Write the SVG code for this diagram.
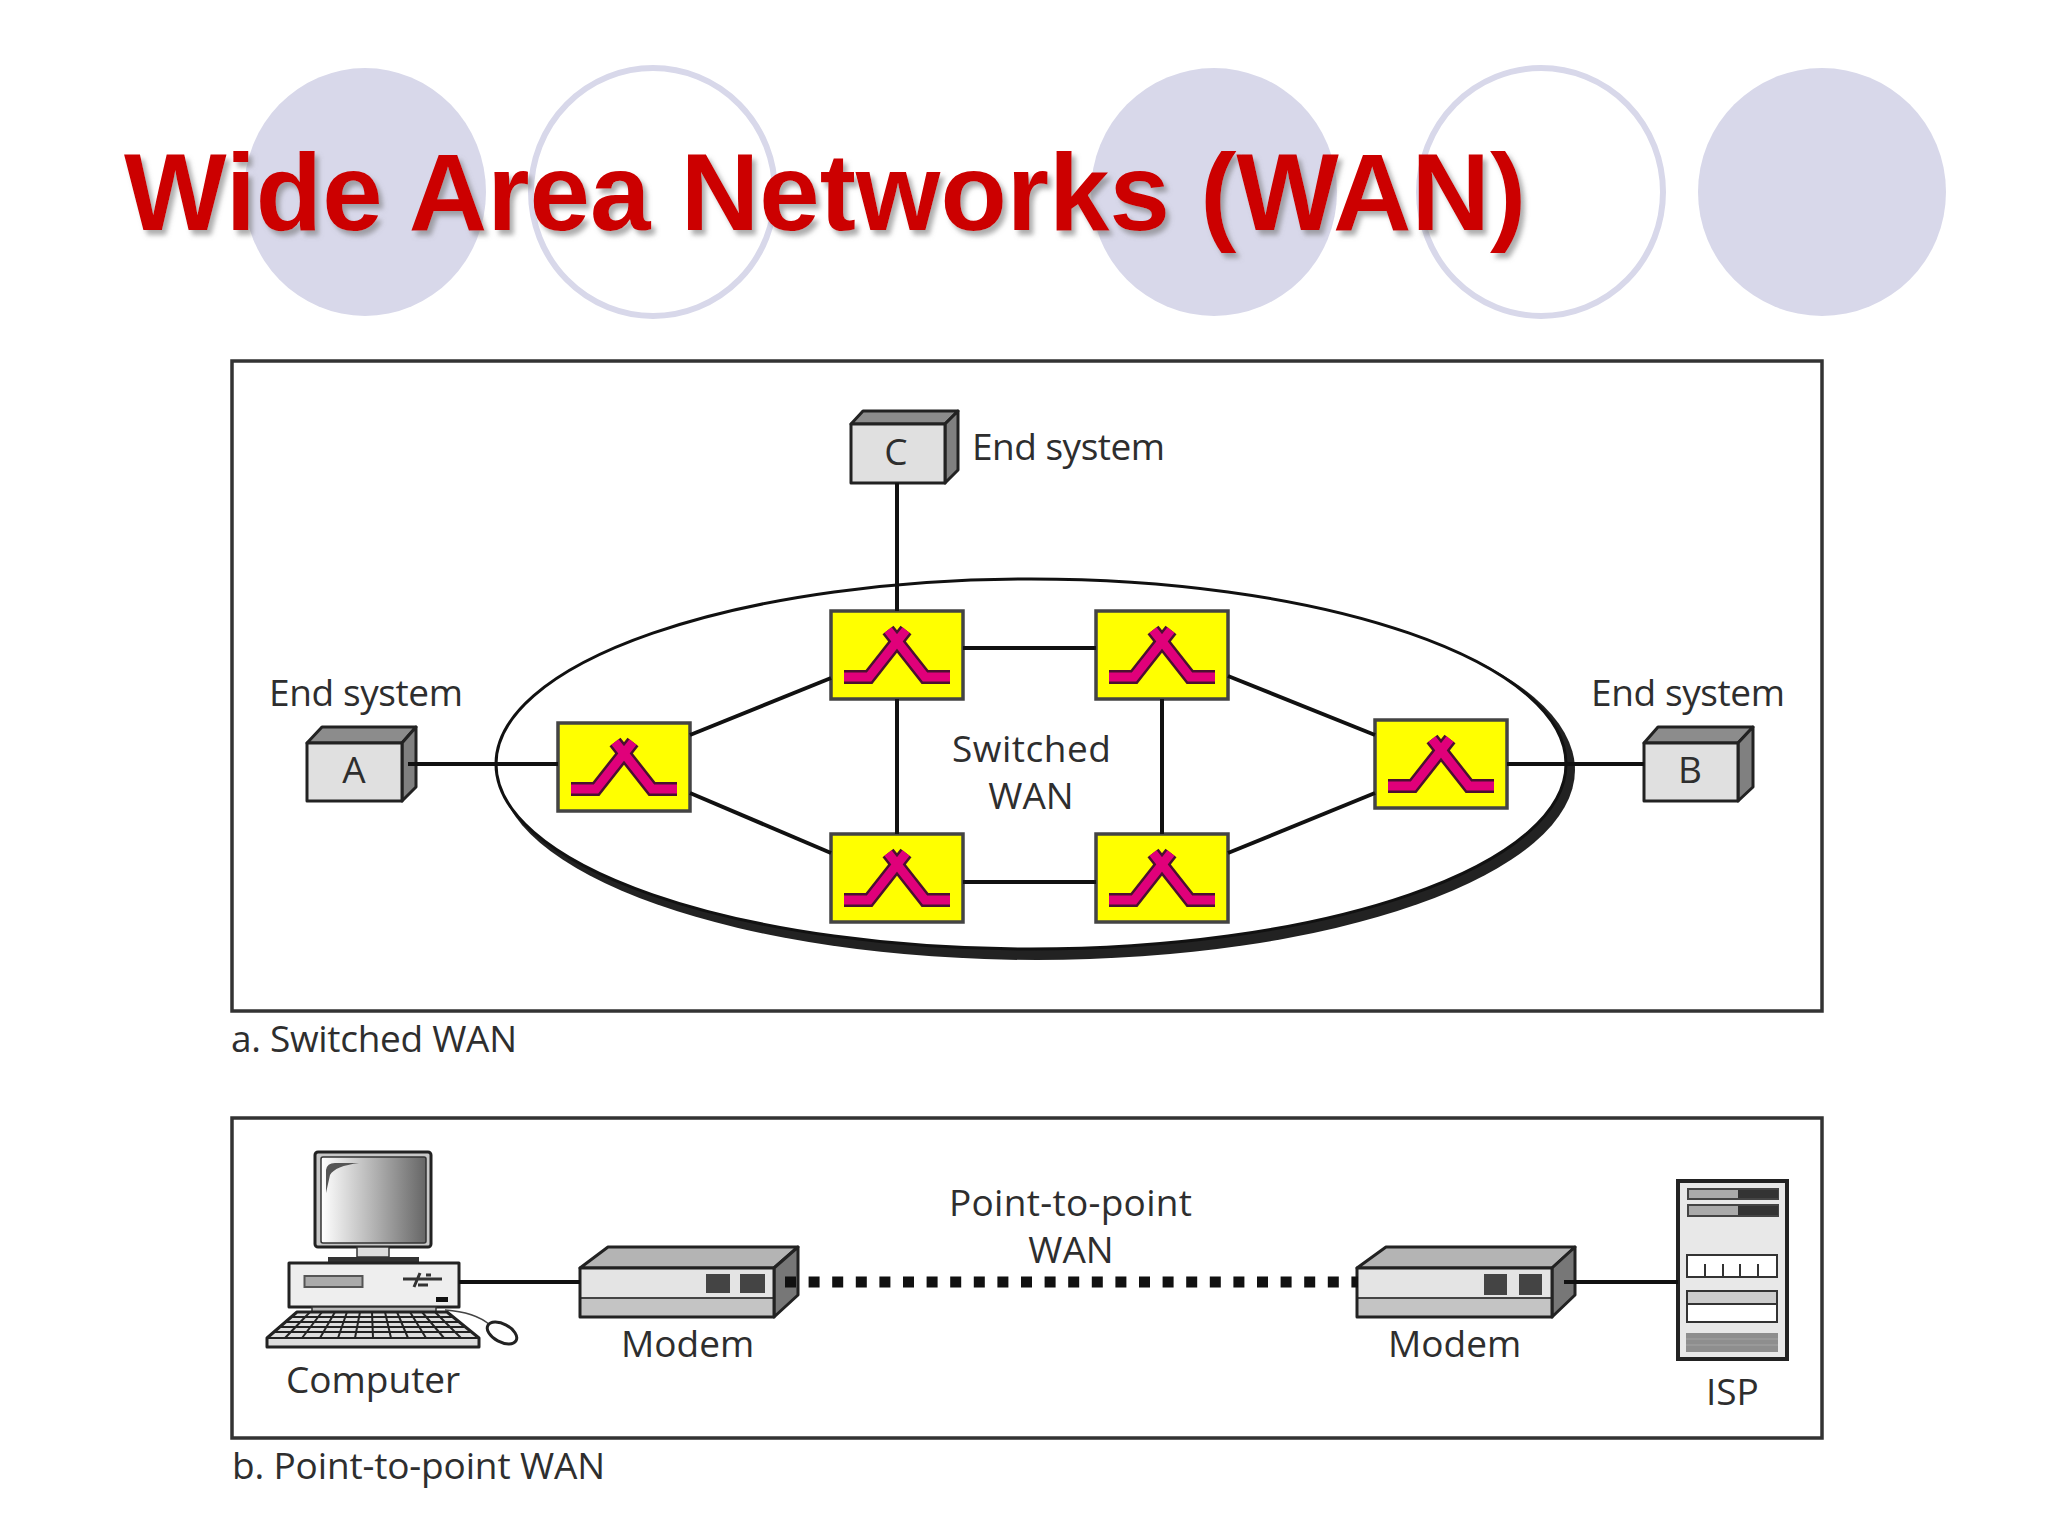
<svg xmlns="http://www.w3.org/2000/svg" width="2048" height="1536" viewBox="0 0 2048 1536">
<style>
.deco{fill:#d8d8ea}
.ring{fill:none;stroke:#d8d8ea;stroke-width:6}
.title{font-family:"Liberation Sans",Arial,sans-serif;font-weight:700;font-size:108.7px;fill:#cc0000}
.lbl{font-family:"Open Sans","Noto Sans",sans-serif;font-size:37px;fill:#2e2e2e}
.panel{fill:#fff;stroke:#333;stroke-width:3.5}
.conn{stroke:#111;stroke-width:4;fill:none}
.sw{fill:#ffff00;stroke:#444;stroke-width:3.5}
.box{stroke:#222;stroke-width:3;stroke-linejoin:round}
.mono{stroke:#222;stroke-width:3;stroke-linejoin:round}
.key{stroke:#222;stroke-width:2;fill:none}
</style>
<defs>
<filter id="ts" x="-5%" y="-20%" width="110%" height="140%"><feDropShadow dx="4" dy="5" stdDeviation="2.5" flood-color="#777" flood-opacity=".6"/></filter>
<linearGradient id="scr" x1="0" x2="1" y1="0" y2="0"><stop offset="0" stop-color="#fff"/><stop offset=".45" stop-color="#bbb"/><stop offset="1" stop-color="#666"/></linearGradient>
<g id="switchSym">
<rect class="sw" x="0" y="0" width="132" height="88"/>
<path d="M13 66H38L75 19M119 66H94L57 19" fill="none" stroke="#4a1030" stroke-width="14" stroke-linejoin="miter"/>
<path d="M13 66H38L75 19M119 66H94L57 19" fill="none" stroke="#e0007a" stroke-width="9" stroke-linejoin="miter"/>
</g>
</defs>
<rect width="2048" height="1536" fill="#fff"/>
<g id="decor">
<ellipse class="deco" cx="365" cy="192" rx="121" ry="124"/>
<ellipse class="ring" cx="653" cy="192" rx="122" ry="124"/>
<ellipse class="deco" cx="1214" cy="192" rx="123" ry="124"/>
<ellipse class="ring" cx="1541" cy="192" rx="122" ry="124"/>
<ellipse class="deco" cx="1822" cy="192" rx="124" ry="124"/>
</g>
<text id="title" class="title" x="124" y="230" filter="url(#ts)">Wide Area Networks (WAN)</text>

<rect id="panel-a" class="panel" x="232" y="361" width="1590" height="650"/>
<rect id="panel-b" class="panel" x="232" y="1118" width="1590" height="320"/>

<g id="wan-cloud">
<ellipse cx="1037" cy="770" rx="538" ry="190" fill="#222"/>
<ellipse cx="1031" cy="764" rx="535" ry="185" fill="#fff" stroke="#111" stroke-width="3"/>
</g>

<g id="node-A">
<path class="box" d="M307 743L322 727H416L402 743Z" fill="#8c8c8c"/>
<path class="box" d="M402 743L416 727V787L402 801Z" fill="#808080"/>
<rect class="box" x="307" y="743" width="95" height="58" fill="#e0e0e0"/>
<text class="lbl" x="354" y="783" text-anchor="middle">A</text>
</g>
<text id="label-A" class="lbl" x="269" y="706" textLength="194">End system</text>
<g id="node-B">
<path class="box" d="M1644 743L1658 727H1753L1738 743Z" fill="#8c8c8c"/>
<path class="box" d="M1738 743L1753 727V787L1738 801Z" fill="#808080"/>
<rect class="box" x="1644" y="743" width="94" height="58" fill="#e0e0e0"/>
<text class="lbl" x="1690" y="783" text-anchor="middle">B</text>
</g>
<text id="label-B" class="lbl" x="1591" y="706" textLength="194">End system</text>
<g id="node-C">
<path class="box" d="M851 424L863 411H958L945 424Z" fill="#8c8c8c"/>
<path class="box" d="M945 424L958 411V470L945 483Z" fill="#808080"/>
<rect class="box" x="851" y="424" width="94" height="59" fill="#e0e0e0"/>
<text class="lbl" x="896" y="465" text-anchor="middle">C</text>
</g>
<text id="label-C" class="lbl" x="972" y="460" textLength="193">End system</text>

<g id="switch-1"><use href="#switchSym" x="558" y="723"/></g>
<g id="switch-2"><use href="#switchSym" x="831" y="611"/></g>
<g id="switch-3"><use href="#switchSym" x="831" y="834"/></g>
<g id="switch-4"><use href="#switchSym" x="1096" y="611"/></g>
<g id="switch-5"><use href="#switchSym" x="1096" y="834"/></g>
<g id="switch-6"><use href="#switchSym" x="1375" y="720"/></g>

<text class="lbl" x="952" y="762" textLength="159">Switched</text>
<text class="lbl" x="1031" y="809" text-anchor="middle">WAN</text>
<text class="lbl" x="231" y="1052" textLength="286">a. Switched WAN</text>
<text class="lbl" x="232" y="1479" textLength="373">b. Point-to-point WAN</text>
<text class="lbl" x="949" y="1216" textLength="243">Point-to-point</text>
<text class="lbl" x="1071" y="1263" text-anchor="middle">WAN</text>

<g id="computer">
<rect class="mono" x="315" y="1152" width="116" height="95" rx="3" fill="#c8c8c8"/>
<rect x="321" y="1157" width="105" height="86" rx="2" fill="url(#scr)" stroke="#333" stroke-width="1.5"/>
<path d="M326 1193V1170Q327 1163 335 1163H359Q335 1166 330 1175Z" fill="#555"/>
<rect x="357" y="1247" width="32" height="10" fill="#ddd" stroke="#333" stroke-width="1.5"/>
<rect x="328" y="1257" width="91" height="6" fill="#333"/>
<rect class="mono" x="289" y="1263" width="170" height="44" fill="#eee"/>
<rect x="304.5" y="1276" width="58" height="11" fill="#aaa" stroke="#555" stroke-width="2"/>
<path d="M403 1279H442M420 1273L414 1287M426 1275H431M418 1285H428" stroke="#333" stroke-width="3" fill="none"/>
<rect x="436" y="1297" width="12" height="5" fill="#111"/>
<rect x="312" y="1307" width="124" height="5" fill="#bbb" stroke="#333" stroke-width="1.5"/>
<path class="mono" d="M297 1312H447L479 1338V1347H267V1338Z" fill="#ddd"/>
<path class="key" d="M292 1317H452M286 1322H458M280 1327H464M274 1332H470M267 1338H479"/>
<path class="key" d="M310 1312L285 1338M322 1312L302 1338M335 1312L320 1338M347 1312L338 1338M360 1312L355 1338M372 1312L373 1338M385 1312L391 1338M397 1312L408 1338M410 1312L426 1338M422 1312L444 1338M435 1312L461 1338"/>
<path d="M445 1310Q475 1312 490 1325" fill="none" stroke="#444" stroke-width="1.5"/>
<ellipse cx="502" cy="1333" rx="16" ry="9" transform="rotate(28 502 1333)" fill="#fff" stroke="#222" stroke-width="3"/>
</g>
<text id="label-computer" class="lbl" x="286" y="1393">Computer</text>

<g id="modem-1">
<path class="box" d="M580 1268L608 1247H798L774 1268Z" fill="#b4b4b4"/>
<path class="box" d="M774 1268L798 1247V1295L774 1317Z" fill="#777"/>
<rect x="580" y="1268" width="194" height="49" fill="#e4e4e4"/>
<rect x="580" y="1298" width="194" height="19" fill="#c4c4c4"/>
<path d="M580 1298H774" stroke="#444" stroke-width="2"/>
<rect class="box" x="580" y="1268" width="194" height="49" fill="none"/>
<rect x="706" y="1274" width="24" height="19" fill="#444"/>
<rect x="740" y="1274" width="25" height="19" fill="#444"/>
</g>
<text id="label-modem-1" class="lbl" x="621" y="1357">Modem</text>

<g id="modem-2">
<path class="box" d="M1357 1268L1386 1247H1575L1552 1268Z" fill="#b4b4b4"/>
<path class="box" d="M1552 1268L1575 1247V1295L1552 1317Z" fill="#777"/>
<rect x="1357" y="1268" width="195" height="49" fill="#e4e4e4"/>
<rect x="1357" y="1298" width="195" height="19" fill="#c4c4c4"/>
<path d="M1357 1298H1552" stroke="#444" stroke-width="2"/>
<rect class="box" x="1357" y="1268" width="195" height="49" fill="none"/>
<rect x="1484" y="1274" width="23" height="21" fill="#444"/>
<rect x="1519" y="1274" width="23" height="21" fill="#444"/>
</g>
<text id="label-modem-2" class="lbl" x="1388" y="1357">Modem</text>

<g id="isp">
<rect x="1678" y="1181" width="109" height="178" fill="#e8e8e8" stroke="#222" stroke-width="4"/>
<rect x="1688" y="1189" width="90" height="10" fill="#aaa" stroke="#444" stroke-width="2"/>
<rect x="1738" y="1190" width="40" height="8" fill="#333"/>
<rect x="1688" y="1205" width="90" height="11" fill="#aaa" stroke="#444" stroke-width="2"/>
<rect x="1738" y="1206" width="40" height="9" fill="#333"/>
<rect x="1687" y="1255" width="90" height="22" fill="#fff" stroke="#333" stroke-width="2"/>
<path d="M1705 1264V1277M1723 1264V1277M1740 1264V1277M1758 1264V1277" stroke="#333" stroke-width="2"/>
<rect x="1687" y="1291" width="90" height="31" fill="#fff" stroke="#333" stroke-width="2"/>
<rect x="1688" y="1292" width="88" height="12" fill="#ccc"/>
<path d="M1687 1304H1777" stroke="#333" stroke-width="2"/>
<rect x="1686" y="1333" width="92" height="19" fill="#8e8e8e"/>
<path d="M1686 1339H1778M1686 1345H1778" stroke="#a4a4a4" stroke-width="1"/>
</g>
<text id="label-isp" class="lbl" x="1706" y="1405">ISP</text>

<g id="connectors" class="conn">
<path d="M408 764H558"/>
<path d="M690 735L831 678"/>
<path d="M690 793L831 853"/>
<path d="M897 699V834"/>
<path d="M963 648H1096"/>
<path d="M963 882H1096"/>
<path d="M1162 699V834"/>
<path d="M1228 676L1375 735"/>
<path d="M1228 853L1375 793"/>
<path d="M1507 764H1644"/>
<path d="M897 483V611"/>
<path d="M459 1282H580"/>
<path d="M1564 1282H1678"/>
<path d="M785 1282H1358" stroke-width="11" stroke-dasharray="11 12.6"/>
</g>
</svg>
